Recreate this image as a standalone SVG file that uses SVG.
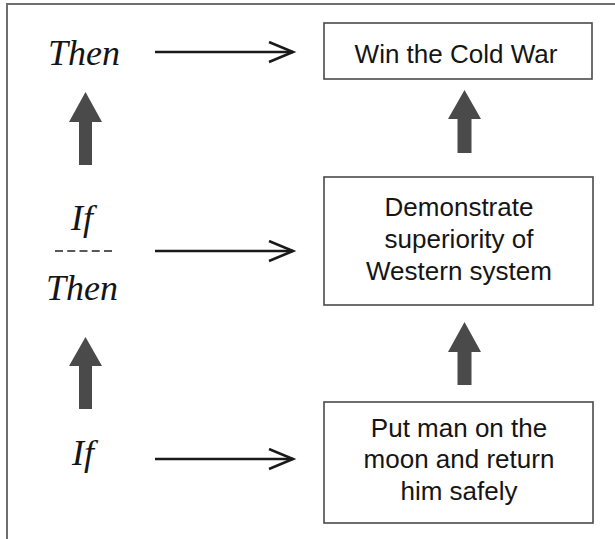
<svg xmlns="http://www.w3.org/2000/svg" width="615" height="539" viewBox="0 0 615 539">
  <style>
    .frame { fill: none; stroke: #6e6e6e; stroke-width: 2; }
    .box { fill: #ffffff; stroke: #4a4a4a; stroke-width: 1.6; }
    .label { font-family: "Liberation Sans", Arial, sans-serif; font-size: 26px; fill: #151515; text-anchor: middle; }
    .logic { font-family: "Liberation Serif", "Times New Roman", serif; font-style: italic; font-size: 36px; fill: #151515; text-anchor: middle; }
    .conn { fill: none; stroke: #1a1a1a; stroke-width: 2.6; }
    .up { fill: #4a4a4a; }
    .dash { stroke: #222; stroke-width: 1.6; stroke-dasharray: 8 4.25; }
  </style>
  <defs>
    <marker id="open" markerUnits="userSpaceOnUse" markerWidth="30" markerHeight="26" refX="25" refY="11" orient="auto" viewBox="0 0 30 26">
      <path d="M1,1 L25,11 L1,21" fill="none" stroke="#1a1a1a" stroke-width="2.6"/>
    </marker>
  </defs>
  <rect width="615" height="539" fill="#ffffff"/>
  <path class="frame" d="M7,539 V4 H615"/>

  <g id="then-top">
    <text class="logic" x="84" y="65">Then</text>
  </g>
  <g id="if-then-middle">
    <text class="logic" x="82" y="230">If</text>
    <line class="dash" x1="55" y1="251" x2="112" y2="251"/>
    <text class="logic" x="82" y="300">Then</text>
  </g>
  <g id="if-bottom">
    <text class="logic" x="83" y="465">If</text>
  </g>

  <g id="win">
    <rect class="box" x="324" y="23" width="268" height="56"/>
    <text class="label" x="456" y="63">Win the Cold War</text>
  </g>
  <g id="demonstrate">
    <rect class="box" x="324" y="177" width="269" height="128"/>
    <text class="label" x="459" y="216">Demonstrate</text>
    <text class="label" x="459" y="248">superiority of</text>
    <text class="label" x="459" y="280">Western system</text>
  </g>
  <g id="moon">
    <rect class="box" x="324" y="402" width="269" height="121"/>
    <text class="label" x="459" y="437">Put man on the</text>
    <text class="label" x="459" y="468">moon and return</text>
    <text class="label" x="459" y="500">him safely</text>
  </g>

  <g id="connectors">
    <line class="conn" x1="155" y1="52" x2="293" y2="52" marker-end="url(#open)"/>
    <line class="conn" x1="155" y1="251" x2="293" y2="251" marker-end="url(#open)"/>
    <line class="conn" x1="155" y1="459" x2="293" y2="459" marker-end="url(#open)"/>
    <polygon class="up" points="85.5,92 102,122 92,122 92,165 79,165 79,122 69,122"/>
    <polygon class="up" points="85.5,337 102,366 92,366 92,409 79,409 79,366 69,366"/>
    <polygon class="up" points="464.5,90 481,119 471.5,119 471.5,153 457.5,153 457.5,119 448,119"/>
    <polygon class="up" points="464.5,322 481,352 471.5,352 471.5,385 457.5,385 457.5,352 448,352"/>
  </g>
</svg>
